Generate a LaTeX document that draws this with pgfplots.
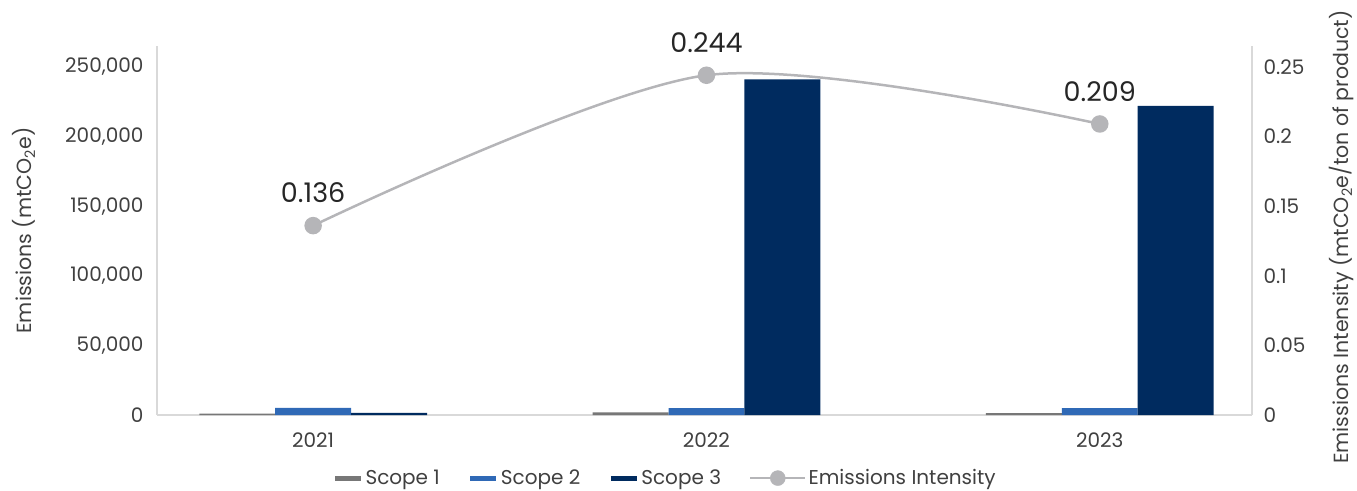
\documentclass[border=0pt]{standalone}
\usepackage{pgfplots}
\pgfplotsset{compat=1.18}
\usepackage{fontspec}
\setmainfont{Poppins}
\definecolor{sone}{HTML}{777777}
\definecolor{stwo}{HTML}{2F69B6}
\definecolor{sthree}{HTML}{002B5F}
\definecolor{lin}{HTML}{B5B5B8}
\definecolor{frm}{HTML}{D9D9D9}
\definecolor{txt}{HTML}{404040}
\begin{document}
\begin{tikzpicture}
\pgfplotsset{
  common/.style={
    scale only axis, width=1095pt, height=369pt,
    xmin=-0.397, xmax=2.387,
    major tick length=0pt,
    scaled y ticks=false,
    axis line style={frm, line width=1.2pt, -},
    /pgf/number format/assume math mode=true,
    ticklabel style={font=\fontsize{20}{22}\selectfont, text=txt},
    label style={font=\fontsize{20.5}{22}\selectfont, text=txt},
  }
}
\begin{axis}[common,
  name=ax,
  ymin=0, ymax=265000,
  axis y line*=left, axis x line*=bottom,
  xtick={0,1,2}, xticklabels={2021,2022,2023},
  xticklabel style={yshift=-14pt},
  ytick={0,50000,100000,150000,200000,250000},
  yticklabels={0,{50,000},{100,000},{150,000},{200,000},{250,000}},
  yticklabel style={xshift=-10pt},
  ylabel={Emissions (mtCO\textsubscript{2}e)},
  ylabel style={at={(axis description cs:-0.1215,0.5)}, anchor=center, rotate=0},
]
\coordinate (o) at (rel axis cs:0,0);
\addplot[ybar, bar width=0.193, bar shift=-0.193, fill=sone, draw=none] coordinates {(0,900) (1,1800) (2,1300)};
\addplot[ybar, bar width=0.193, bar shift=0, fill=stwo, draw=none] coordinates {(0,5200) (1,5000) (2,5000)};
\addplot[ybar, bar width=0.193, bar shift=0.193, fill=sthree, draw=none] coordinates {(0,1500) (1,241000) (2,222000)};
\end{axis}
\begin{axis}[common,
  ymin=0, ymax=0.265,
  axis y line*=right, axis x line=none,
  ytick={0,0.05,0.1,0.15,0.2,0.25},
  yticklabels={0,0.05,0.1,0.15,0.2,0.25},
  yticklabel style={xshift=8pt},
  ylabel={Emissions Intensity (mtCO\textsubscript{2}e/ton of product)},
  ylabel style={at={(axis description cs:1.082,0.482)}, anchor=center, rotate=0},
  legend columns=4,
  legend style={at={(axis description cs:0.464,-0.171)}, anchor=center, draw=none,
    font=\fontsize{20}{22}\selectfont, text=txt,
    /tikz/every even column/.append style={column sep=26pt}},
]
\addplot[lin, line width=2.5pt, smooth, mark=*, mark size=7.5pt,
  mark options={fill=lin, draw=none},
  nodes near coords, point meta=explicit symbolic,
  every node near coord/.style={font=\fontsize{27}{29}\selectfont, text=black!85, anchor=south, yshift=18pt},
  forget plot] coordinates {(0,0.136)[0.136] (1,0.244)[0.244] (2,0.209)[0.209]};
\addlegendimage{legend image code/.code={\draw[sone, line width=5pt] (0pt,0pt) -- (26pt,0pt);}}
\addlegendentry{Scope 1}
\addlegendimage{legend image code/.code={\draw[stwo, line width=5pt] (0pt,0pt) -- (26pt,0pt);}}
\addlegendentry{Scope 2}
\addlegendimage{legend image code/.code={\draw[sthree, line width=5pt] (0pt,0pt) -- (26pt,0pt);}}
\addlegendentry{Scope 3}
\addlegendimage{legend image code/.code={\draw[lin, line width=2.5pt] (0pt,0pt) -- (55pt,0pt); \fill[lin] (27.5pt,0pt) circle (7.5pt);}}
\addlegendentry{Emissions Intensity}
\end{axis}
\pgfresetboundingbox
\path[use as bounding box] ([shift={(-157pt,-75pt)}]o) rectangle ([shift={(1200pt,415pt)}]o);
\end{tikzpicture}
\end{document}
